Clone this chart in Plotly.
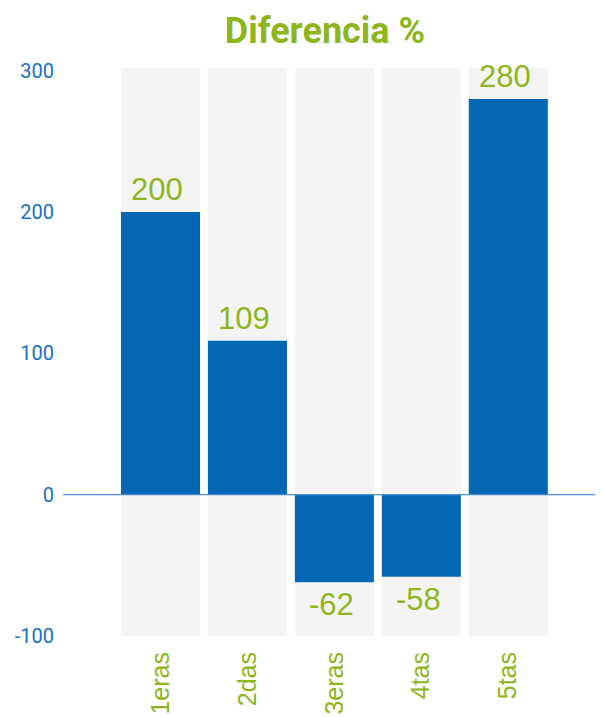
import plotly.graph_objects as go

categories = ["1eras", "2das", "3eras", "4tas", "5tas"]
values = [200, 109, -62, -58, 280]
y_ticks = [300, 200, 100, 0, -100]

BLUE = "#0467b4"
GREEN = "#8cb61c"
TICK_BLUE = "#1570c4"
GRAY = "#f4f4f4"

x_idx = list(range(len(categories)))

fig = go.Figure()
fig.add_trace(go.Bar(
    x=x_idx, y=values,
    marker=dict(color=BLUE, line=dict(width=0)),
    hoverinfo="skip",
))

for i, v in zip(x_idx, values):
    fig.add_annotation(
        x=i, y=v, xref="x", yref="y", text=str(v), showarrow=False,
        yanchor="bottom" if v >= 0 else "top",
        yshift=3 if v >= 0 else -3,
        xshift=-3,
        font=dict(family="Liberation Sans, Arial", size=31, color=GREEN),
    )

half = 0.4545
for i in x_idx:
    fig.add_shape(type="rect", xref="x", yref="y",
                  x0=i - half, x1=i + half, y0=-100, y1=302,
                  fillcolor=GRAY, line=dict(width=0), layer="below")

fig.add_shape(type="line", xref="paper", yref="y", x0=0, x1=1, y0=0, y1=0,
              line=dict(color="#4a8fd0", width=1.3), layer="above")

fig.update_layout(
    width=603, height=717,
    margin=dict(l=55, r=0, t=60, b=89),
    paper_bgcolor="white", plot_bgcolor="white",
    showlegend=False,
    bargap=0.091,
    title=dict(text="Diferencia %", xref="container", x=(325 - 8) / 603, xanchor="center",
               yref="container", y=1 - 22 / 717, yanchor="middle",
               font=dict(family="Roboto", size=36, color=GREEN, weight="bold")),
    xaxis=dict(
        range=[-1.121, 5.181],
        tickmode="array", tickvals=x_idx, ticktext=categories,
        tickangle=-90,
        tickfont=dict(family="Liberation Sans, Arial", size=25, color=GREEN),
        showgrid=False, zeroline=False, showline=False, ticks="",
        ticklabelstandoff=10,
    ),
    yaxis=dict(
        range=[-100, 302],
        tickmode="array", tickvals=y_ticks, ticktext=[str(t) for t in y_ticks],
        tickfont=dict(family="Roboto", size=20, color=TICK_BLUE),
        showgrid=False, zeroline=False, showline=False, ticks="",
        ticklabelstandoff=8,
    ),
)

fig.write_html("out.html")
